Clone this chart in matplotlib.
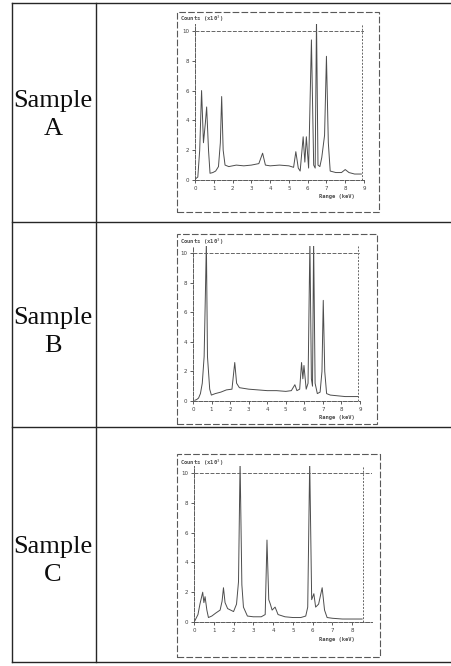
import numpy as np
import matplotlib
matplotlib.use("Agg")
import matplotlib.pyplot as plt
from matplotlib.lines import Line2D
from matplotlib.patches import Rectangle

W, H = 451, 666

# spectra (x in keV, y in counts x10^3)
a_x = [0.05, 0.15, 0.25, 0.35, 0.45, 0.55, 0.62, 0.72, 0.8, 0.95, 1.1, 1.25, 1.35, 1.42, 1.5, 1.6,
       1.8, 2.2, 2.6, 3.0, 3.4, 3.6, 3.75, 4.0, 4.5, 5.0, 5.25, 5.37, 5.5, 5.6, 5.76, 5.85, 5.93,
       6.05, 6.2, 6.32, 6.4, 6.47, 6.55, 6.65, 6.75, 6.9, 7.0, 7.1, 7.2, 7.5, 7.8, 8.0, 8.2, 8.5, 8.86]
a_y = [0.1, 0.2, 2.0, 6.0, 2.5, 3.8, 4.9, 2.0, 0.45, 0.5, 0.6, 0.9, 2.5, 5.6, 2.0, 1.0,
       0.9, 1.0, 0.95, 1.0, 1.1, 1.8, 1.0, 0.95, 1.0, 0.95, 0.85, 1.9, 0.8, 0.6, 2.9, 1.2, 2.9,
       0.8, 9.4, 1.0, 0.8, 10.8, 1.0, 0.9, 1.5, 3.0, 8.3, 2.5, 0.6, 0.5, 0.5, 0.7, 0.5, 0.4, 0.4]

b_x = [0.1, 0.2, 0.3, 0.4, 0.5, 0.6, 0.68, 0.72, 0.78, 0.9, 0.99, 1.2, 1.5, 1.8, 2.1, 2.25, 2.35,
       2.5, 3.0, 3.5, 4.0, 4.5, 5.0, 5.3, 5.49, 5.6, 5.75, 5.85, 5.92, 5.98, 6.1, 6.2, 6.3, 6.38,
       6.44, 6.5, 6.58, 6.7, 6.85, 6.95, 7.02, 7.1, 7.2, 7.4, 7.8, 8.2, 8.6, 8.9]
b_y = [0.05, 0.1, 0.2, 0.5, 1.2, 3.0, 8.0, 10.8, 3.0, 0.8, 0.4, 0.5, 0.6, 0.75, 0.8, 2.6, 1.2,
       0.9, 0.8, 0.75, 0.7, 0.7, 0.65, 0.7, 1.1, 0.7, 0.8, 2.6, 1.5, 2.4, 0.8, 1.2, 10.8, 1.5,
       1.0, 10.8, 1.2, 0.5, 0.6, 2.0, 6.8, 2.0, 0.5, 0.4, 0.35, 0.3, 0.3, 0.3]

c_x = [0.05, 0.2, 0.3, 0.44, 0.5, 0.56, 0.65, 0.73, 0.9, 1.1, 1.32, 1.42, 1.49, 1.57, 1.7, 2.0,
       2.15, 2.25, 2.33, 2.42, 2.5, 2.7, 3.0, 3.4, 3.6, 3.69, 3.78, 3.86, 3.95, 4.1, 4.25, 4.6,
       5.0, 5.4, 5.65, 5.75, 5.85, 5.95, 6.06, 6.15, 6.3, 6.48, 6.6, 6.73, 7.0, 7.5, 8.0, 8.5]
c_y = [0.1, 0.5, 1.2, 2.0, 1.3, 1.7, 0.8, 0.3, 0.4, 0.6, 0.8, 1.4, 2.3, 1.3, 0.9, 0.7,
       1.2, 2.7, 10.8, 2.5, 1.0, 0.4, 0.35, 0.35, 0.5, 5.5, 1.5, 1.2, 0.8, 1.0, 0.5, 0.35,
       0.3, 0.3, 0.4, 1.0, 10.8, 1.5, 1.9, 1.0, 1.2, 2.3, 0.8, 0.3, 0.25, 0.2, 0.2, 0.2]

samples = ["A", "B", "C"]
y_ticks = [0, 2, 4, 6, 8, 10]
y_labels = ["0", "2", "4", "6", "8", "10"]

# pixel layout per panel: axes left/right(x=9)/baseline/top, frame right in data, outer box
panels = [
    dict(x=a_x, y=a_y, l=195, r=364, b=180, t=23.5, fr=8.9, box=(177, 12, 379, 212),
         xt=range(10), lab_y=197, cnt_y=19, name_y=115),
    dict(x=b_x, y=b_y, l=193, r=360, b=401, t=245.6, fr=8.9, box=(177, 234, 377, 424),
         xt=range(10), lab_y=418, cnt_y=242, name_y=332),
    dict(x=c_x, y=c_y, l=194, r=372, b=622, t=465.6, fr=8.55, box=(177, 454, 380, 657),
         xt=range(9), lab_y=639, cnt_y=463, name_y=561),
]

fig = plt.figure(figsize=(W / 100, H / 100), dpi=100)
fig.patch.set_facecolor("white")

def fx(px):
    return px / W

def fy(py):
    return 1 - py / H

# table lines
for yy in [3, 222, 427, 662]:
    fig.add_artist(Line2D([fx(12), 1], [fy(yy), fy(yy)], color="0.15", lw=1.0))
for xx in [12, 96]:
    fig.add_artist(Line2D([fx(xx), fx(xx)], [fy(3), fy(662)], color="0.15", lw=1.0))

for name, p in zip(samples, panels):
    # row label
    fig.text(fx(53), fy(p["name_y"]), "Sample\n" + name, ha="center", va="center",
             family="Liberation Serif", fontsize=19, linespacing=1.3, color="0.05")

    # outer dashed box
    x0, y0, x1, y1 = p["box"]
    fig.add_artist(Rectangle((fx(x0), fy(y1)), fx(x1) - fx(x0), fy(y0) - fy(y1),
                             fill=False, ls=(0, (6, 2)), lw=0.8, ec="0.35",
                             transform=fig.transFigure))

    ax = fig.add_axes([fx(p["l"]), fy(p["b"]), fx(p["r"]) - fx(p["l"]), fy(p["t"]) - fy(p["b"])])
    ax.plot(p["x"], p["y"], color="0.3", lw=0.7)
    ax.set_xlim(0, 9)
    ax.set_ylim(0, 10.5)
    ax.axhline(10, color="0.4", lw=0.7, ls=(0, (4, 1.5)))
    ax.axvline(p["fr"], color="0.4", lw=0.7, ls=(0, (2, 1.5)))
    for s in ["top", "right"]:
        ax.spines[s].set_visible(False)
    for s in ["left", "bottom"]:
        ax.spines[s].set_linestyle((0, (4, 1.5)))
        ax.spines[s].set_color("0.35")
        ax.spines[s].set_linewidth(0.7)
    ax.set_xticks(list(p["xt"]))
    ax.set_yticks(y_ticks)
    ax.set_yticklabels(y_labels)
    ax.tick_params(labelsize=4, length=2, width=0.6, colors="0.25", pad=2)
    ax.set_facecolor("none")

    fig.text(fx(337), fy(p["lab_y"]), "Range (keV)", ha="center", va="center",
             fontsize=4, family="DejaVu Sans Mono", weight="bold", color="0.3")
    fig.text(fx(180), fy(p["cnt_y"]), "Counts (x10$^3$)", ha="left", va="center",
             fontsize=4, family="DejaVu Sans Mono", weight="bold", color="0.3")

fig.savefig("out.png", dpi=100, facecolor="white")
